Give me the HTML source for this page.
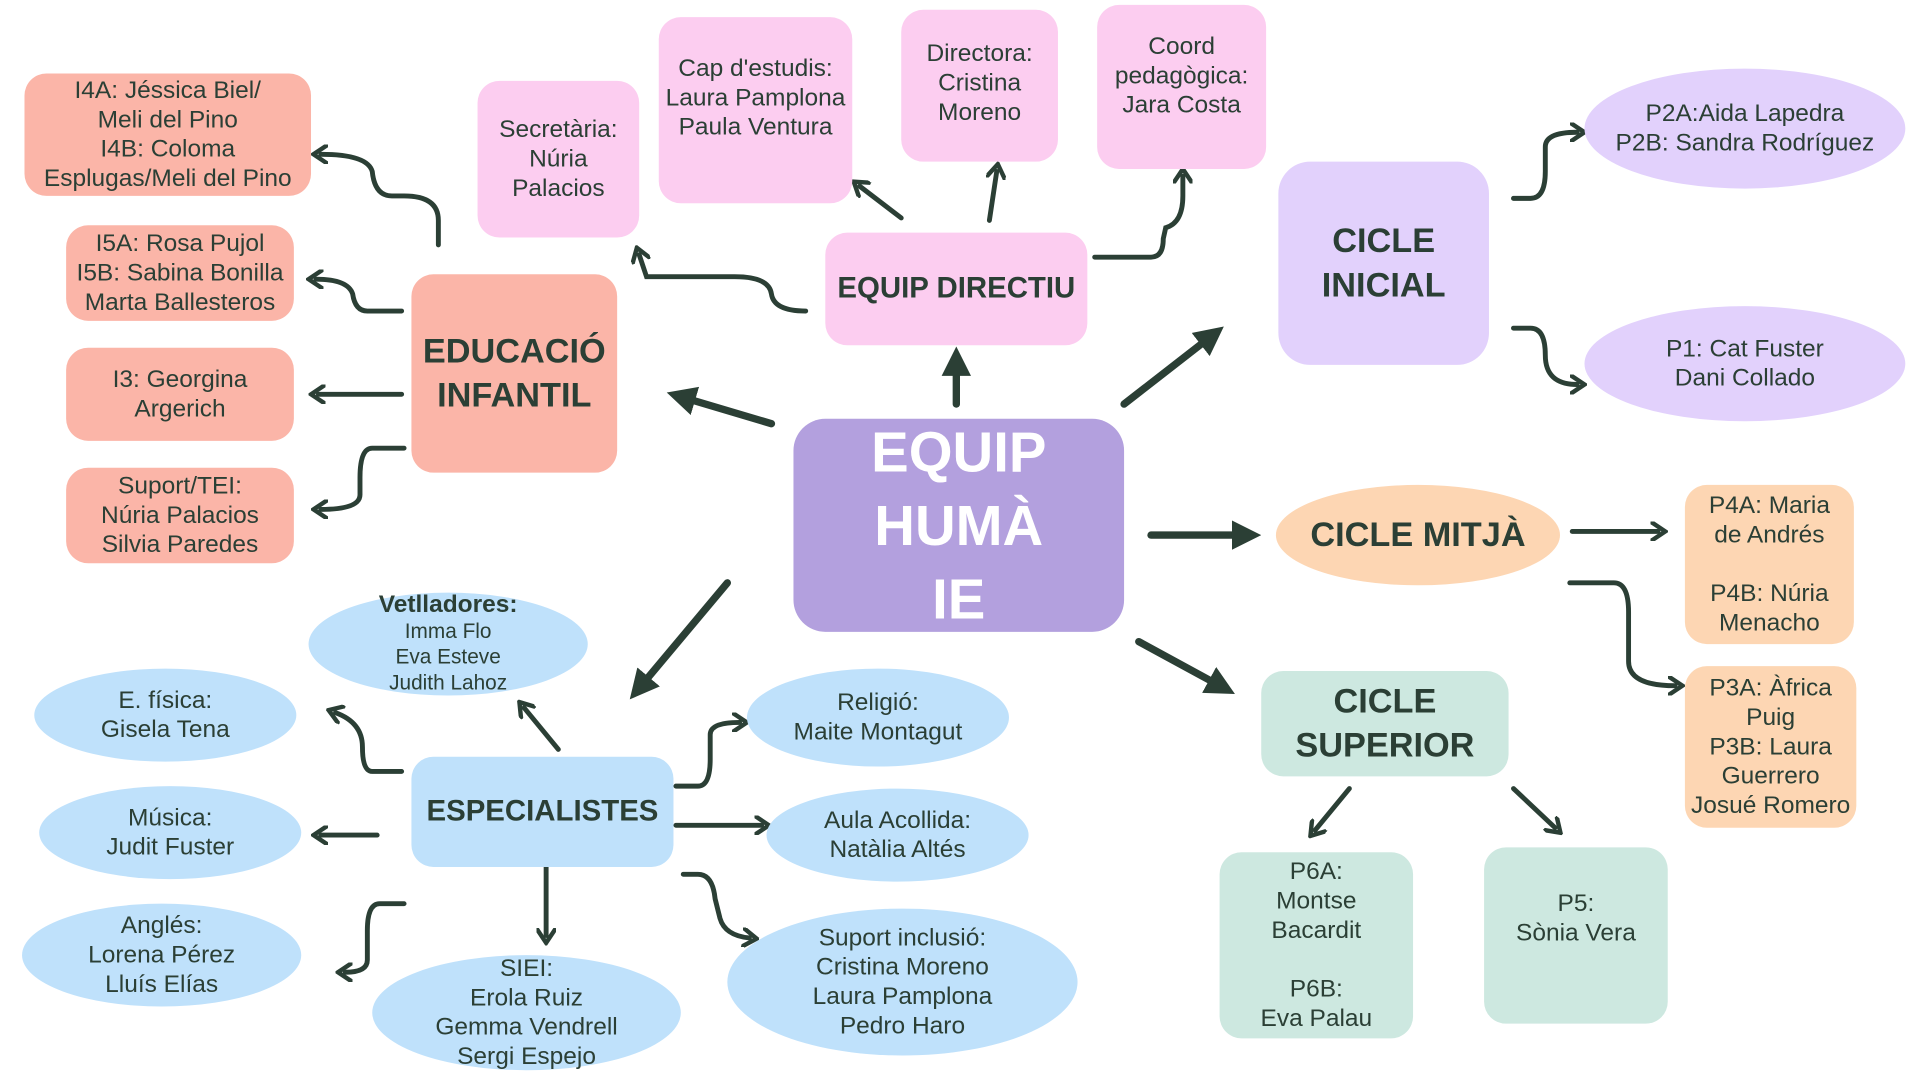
<!DOCTYPE html>
<html><head><meta charset="utf-8"><style>
html,body{margin:0;padding:0;width:1920px;height:1080px;overflow:hidden;background:#fff}
#w{position:absolute;left:0;top:0;width:1568px;height:882px;transform:scale(1.22449);transform-origin:0 0;font-family:"Liberation Sans Narrow","Liberation Sans",sans-serif;color:#2b3f35}
.b{position:absolute;display:flex;align-items:center;justify-content:center;text-align:center;font-size:20px;line-height:24px;box-sizing:border-box;border-radius:18px}
.t{font-size:28px;line-height:36px;font-weight:bold}
.s{background:#fbb5a8}.p{background:#fccdf0}.l{background:#e2d1fc}.o{background:#fdd6b3}.m{background:#cde8e0}.c{background:#bfe1fb}
.e{border-radius:50%}
svg{position:absolute;left:0;top:0}
</style></head><body><div id="w">
<svg width="1568" height="882">
<defs><marker id="a" markerWidth="4" markerHeight="4" refX="2" refY="2" orient="auto" markerUnits="strokeWidth"><path d="M0,0 L4,2 L0,4 Z" fill="#2b3f35"/></marker>
<marker id="h" markerWidth="3.5" markerHeight="4" refX="1.5" refY="2" orient="auto" markerUnits="strokeWidth"><path d="M0,0 L3,2 L0,4" fill="none" stroke="#2b3f35" stroke-width="0.9"/></marker></defs>
<g stroke="#2b3f35" fill="none" stroke-width="6" stroke-linecap="round" marker-end="url(#a)">
<path d="M781,330 L781,295"/><path d="M630,346 L556,324"/><path d="M918,330 L990,274"/><path d="M940,437 L1018,437"/><path d="M930,524 L998,561"/><path d="M594,476 L522,562"/>
</g>
<g stroke="#2b3f35" fill="none" stroke-width="4" stroke-linecap="round" marker-end="url(#h)">
<path d="M658,254 Q632,254 630,240 Q628,226 600,226 L528,226 L522,208"/>
<path d="M736,178 L702,152"/><path d="M808,180 L814,140"/>
<path d="M894,210 L940,210 Q950,210 950,195 L952,186 Q966,182 966,160 L966,144"/>
<path d="M358,200 L358,180 Q358,160 330,160 L320,160 Q306,160 304,140 Q300,126 262,126"/>
<path d="M328,254 L300,254 Q290,254 288,240 Q284,228 258,228"/>
<path d="M328,322 L260,322"/>
<path d="M330,366 L304,366 Q294,366 294,390 L294,404 Q294,416 262,416"/>
<path d="M1236,162 L1250,162 Q1262,162 1262,140 L1262,120 Q1262,108 1288,108"/>
<path d="M1236,268 L1250,268 Q1262,268 1262,290 Q1262,314 1288,314"/>
<path d="M1284,434 L1354,434"/>
<path d="M1282,476 L1318,476 Q1330,476 1330,500 L1330,540 Q1330,560 1368,560"/>
<path d="M1102,644 L1074,678"/><path d="M1236,644 L1270,676"/>
<path d="M456,612 L428,578"/>
<path d="M328,630 L304,630 Q296,630 296,610 Q296,590 274,582"/>
<path d="M308,682 L262,682"/>
<path d="M330,738 L310,738 Q300,738 300,760 L300,784 Q300,794 282,794"/>
<path d="M446,708 L446,764"/>
<path d="M552,642 L570,642 Q580,642 580,620 L580,600 Q580,590 604,590"/>
<path d="M552,674 L622,674"/>
<path d="M558,714 L570,714 Q582,714 584,734 L588,750 Q592,764 612,766"/>
</g></svg>
<div class="b" style="left:648px;top:342px;width:270px;height:174px;background:#b3a0de;color:#fff;font-size:46px;line-height:60px;font-weight:bold;border-radius:26px">EQUIP<br>HUMÀ<br>IE</div>
<div class="b p t" style="left:674px;top:190px;width:214px;height:92px;font-size:24px">EQUIP DIRECTIU</div>
<div class="b p" style="left:390px;top:66px;width:132px;height:128px">Secretària:<br>Núria<br>Palacios</div>
<div class="b p" style="left:538px;top:14px;width:158px;height:152px;align-items:flex-start;padding-top:30px">Cap d'estudis:<br>Laura Pamplona<br>Paula Ventura</div>
<div class="b p" style="left:736px;top:8px;width:128px;height:124px;align-items:flex-start;padding-top:24px">Directora:<br>Cristina<br>Moreno</div>
<div class="b p" style="left:896px;top:4px;width:138px;height:134px;align-items:flex-start;padding-top:22px">Coord<br>pedagògica:<br>Jara Costa</div>
<div class="b s t" style="left:336px;top:224px;width:168px;height:162px">EDUCACIÓ<br>INFANTIL</div>
<div class="b s" style="left:20px;top:60px;width:234px;height:100px">I4A: Jéssica Biel/<br>Meli del Pino<br>I4B: Coloma<br>Esplugas/Meli del Pino</div>
<div class="b s" style="left:54px;top:184px;width:186px;height:78px">I5A: Rosa Pujol<br>I5B: Sabina Bonilla<br>Marta Ballesteros</div>
<div class="b s" style="left:54px;top:284px;width:186px;height:76px">I3: Georgina<br>Argerich</div>
<div class="b s" style="left:54px;top:382px;width:186px;height:78px">Suport/TEI:<br>Núria Palacios<br>Silvia Paredes</div>
<div class="b l t" style="left:1044px;top:132px;width:172px;height:166px;border-radius:26px">CICLE<br>INICIAL</div>
<div class="b l e" style="left:1294px;top:56px;width:262px;height:98px">P2A:Aida Lapedra<br>P2B: Sandra Rodríguez</div>
<div class="b l e" style="left:1294px;top:250px;width:262px;height:94px">P1: Cat Fuster<br>Dani Collado</div>
<div class="b o e t" style="left:1042px;top:396px;width:232px;height:82px">CICLE MITJÀ</div>
<div class="b o" style="left:1376px;top:396px;width:138px;height:130px">P4A: Maria<br>de Andrés<br><br>P4B: Núria<br>Menacho</div>
<div class="b o" style="left:1376px;top:544px;width:140px;height:132px">P3A: Àfrica<br>Puig<br>P3B: Laura<br>Guerrero<br>Josué Romero</div>
<div class="b m t" style="left:1030px;top:548px;width:202px;height:86px">CICLE<br>SUPERIOR</div>
<div class="b m" style="left:996px;top:696px;width:158px;height:152px">P6A:<br>Montse<br>Bacardit<br><br>P6B:<br>Eva Palau</div>
<div class="b m" style="left:1212px;top:692px;width:150px;height:144px;align-items:flex-start;padding-top:34px">P5:<br>Sònia Vera</div>
<div class="b c t" style="left:336px;top:618px;width:214px;height:90px;font-size:24px">ESPECIALISTES</div>
<div class="b c e" style="left:252px;top:484px;width:228px;height:84px;font-size:17px;line-height:21px"><span><b style="font-size:20px">Vetlladores:</b><br>Imma Flo<br>Eva Esteve<br>Judith Lahoz</span></div>
<div class="b c e" style="left:28px;top:546px;width:214px;height:76px">E. física:<br>Gisela Tena</div>
<div class="b c e" style="left:32px;top:642px;width:214px;height:76px">Música:<br>Judit Fuster</div>
<div class="b c e" style="left:18px;top:738px;width:228px;height:84px">Anglés:<br>Lorena Pérez<br>Lluís Elías</div>
<div class="b c e" style="left:304px;top:780px;width:252px;height:94px">SIEI:<br>Erola Ruiz<br>Gemma Vendrell<br>Sergi Espejo</div>
<div class="b c e" style="left:610px;top:546px;width:214px;height:80px">Religió:<br>Maite Montagut</div>
<div class="b c e" style="left:626px;top:644px;width:214px;height:76px">Aula Acollida:<br>Natàlia Altés</div>
<div class="b c e" style="left:594px;top:742px;width:286px;height:120px">Suport inclusió:<br>Cristina Moreno<br>Laura Pamplona<br>Pedro Haro</div>
</div></body></html>
